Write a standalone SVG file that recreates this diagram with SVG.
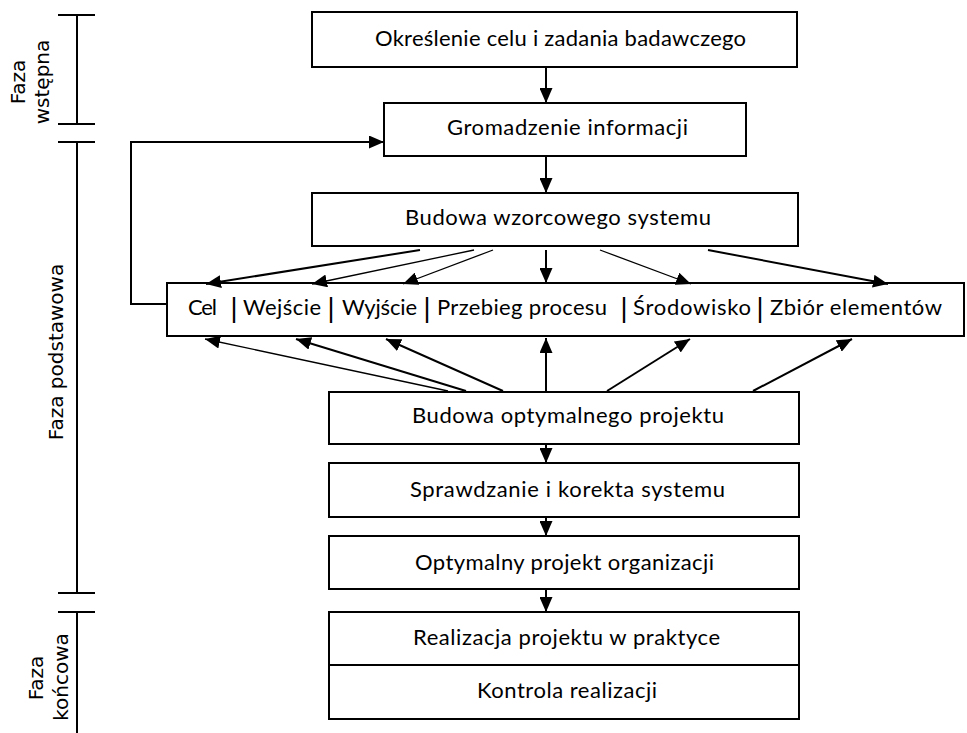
<svg xmlns="http://www.w3.org/2000/svg" width="967" height="733" viewBox="0 0 967 733">
  <style>
    .box { fill: #ffffff; stroke: #000000; stroke-width: 2; }
    .lbl { font-family: Lato, "Liberation Sans", sans-serif; font-size: 22px; fill: #000000; }
    .bar { font-family: "Liberation Sans", Arial, sans-serif; font-size: 27px; fill: #000000; }
    .phase { font-family: "DejaVu Sans", Verdana, sans-serif; font-size: 20px; fill: #000000; text-anchor: middle; }
    .bracket { stroke: #000000; stroke-width: 2; fill: none; }
    .link { stroke: #000000; stroke-width: 2; fill: none; marker-end: url(#head); }
    .thin { stroke-width: 1.3; }
  </style>
  <defs>
    <marker id="head" markerUnits="userSpaceOnUse" markerWidth="15" markerHeight="13" refX="15" refY="6.5" orient="auto">
      <path d="M0,0 L15,6.5 L0,13 Z" fill="#000000"/>
    </marker>
  </defs>

  <rect width="967" height="733" fill="#ffffff"/>

  <!-- phase brackets on the left -->
  <g id="phase-brackets">
    <path class="bracket" d="M77,15 V124 M58,15 H95 M58,124 H95"/>
    <path class="bracket" d="M77,142 V593 M58,142 H95 M58,593 H95"/>
    <path class="bracket" d="M77,612 V733 M58,612 H95"/>
    <text class="phase" transform="translate(25,82) rotate(-90)">Faza</text>
    <text class="phase" transform="translate(49,82) rotate(-90)">wstępna</text>
    <text class="phase" transform="translate(63,352) rotate(-90)">Faza podstawowa</text>
    <text class="phase" transform="translate(43,678) rotate(-90)">Faza</text>
    <text class="phase" transform="translate(68,677) rotate(-90)">końcowa</text>
  </g>

  <!-- process steps -->
  <g id="cel-zadanie">
    <rect class="box" x="312" y="12" width="485" height="55"/>
    <text class="lbl" x="375" y="46" textLength="371">Określenie celu i zadania badawczego</text>
  </g>
  <g id="gromadzenie">
    <rect class="box" x="384" y="103" width="362" height="53"/>
    <text class="lbl" x="447" y="135" textLength="241">Gromadzenie informacji</text>
  </g>
  <g id="wzorcowy-system">
    <rect class="box" x="312" y="193" width="486" height="53"/>
    <text class="lbl" x="405" y="225" textLength="306">Budowa wzorcowego systemu</text>
  </g>
  <g id="elementy-systemu">
    <rect class="box" x="167" y="283" width="797" height="53"/>
    <text class="lbl" x="188" y="315" textLength="29">Cel</text>
    <text class="bar" x="230.5" y="317">|</text>
    <text class="lbl" x="243" y="315" textLength="78">Wejście</text>
    <text class="bar" x="327.5" y="317">|</text>
    <text class="lbl" x="342" y="315" textLength="75">Wyjście</text>
    <text class="bar" x="423.5" y="317">|</text>
    <text class="lbl" x="437" y="315" textLength="170">Przebieg procesu</text>
    <text class="bar" x="620.5" y="317">|</text>
    <text class="lbl" x="633" y="315" textLength="118">Środowisko</text>
    <text class="bar" x="756.5" y="317">|</text>
    <text class="lbl" x="770" y="315" textLength="172">Zbiór elementów</text>
  </g>
  <g id="optymalny-projekt-budowa">
    <rect class="box" x="329" y="392" width="470" height="52"/>
    <text class="lbl" x="412" y="423" textLength="312">Budowa optymalnego projektu</text>
  </g>
  <g id="sprawdzanie">
    <rect class="box" x="329" y="463" width="470" height="54"/>
    <text class="lbl" x="410" y="497" textLength="315">Sprawdzanie i korekta systemu</text>
  </g>
  <g id="optymalny-projekt">
    <rect class="box" x="329" y="536" width="470" height="53"/>
    <text class="lbl" x="415" y="570" textLength="299">Optymalny projekt organizacji</text>
  </g>
  <g id="realizacja">
    <rect class="box" x="329" y="612" width="470" height="53"/>
    <text class="lbl" x="413" y="645" textLength="307">Realizacja projektu w praktyce</text>
  </g>
  <g id="kontrola">
    <rect class="box" x="329" y="665" width="470" height="54"/>
    <text class="lbl" x="477" y="698" textLength="180">Kontrola realizacji</text>
  </g>

  <!-- connectors -->
  <g id="connectors">
    <line class="link" x1="546" y1="67" x2="546" y2="103"/>
    <line class="link" x1="546" y1="156" x2="546" y2="193"/>
    <polyline class="link" points="167,304 131,304 131,142 384,142"/>

    <!-- from the reference system down to its elements -->
    <line class="link" x1="420" y1="250" x2="206" y2="284"/>
    <line class="link thin" x1="474" y1="250" x2="312" y2="284"/>
    <line class="link thin" x1="493" y1="250" x2="403" y2="284"/>
    <line class="link" x1="546" y1="250" x2="546" y2="283"/>
    <line class="link thin" x1="600" y1="250" x2="691" y2="284"/>
    <line class="link" x1="708" y1="250" x2="888" y2="284"/>

    <!-- from the optimal design up to the elements -->
    <line class="link thin" x1="448" y1="391" x2="205" y2="339"/>
    <line class="link" x1="466" y1="391" x2="296" y2="339"/>
    <line class="link" x1="503" y1="391" x2="386" y2="339"/>
    <line class="link" x1="546" y1="391" x2="546" y2="338"/>
    <line class="link" x1="607" y1="391" x2="690" y2="339"/>
    <line class="link" x1="753" y1="391" x2="852" y2="339"/>

    <line class="link" x1="546" y1="444" x2="546" y2="463"/>
    <line class="link" x1="546" y1="517" x2="546" y2="536"/>
    <line class="link" x1="546" y1="589" x2="546" y2="612"/>
  </g>
</svg>
